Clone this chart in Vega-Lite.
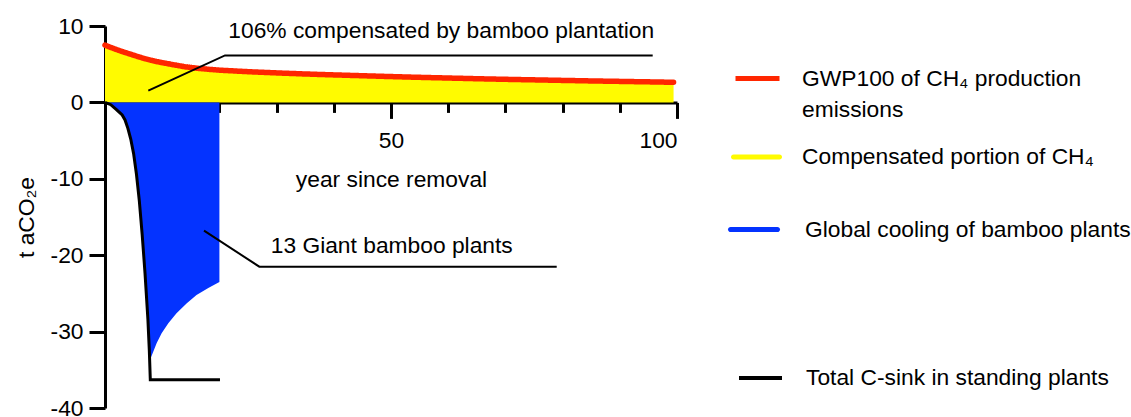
{
  "$schema": "https://vega.github.io/schema/vega-lite/v6.json",
  "width": 572,
  "height": 382,
  "autosize": {"type": "none"},
  "padding": {"left": 105, "top": 26, "right": 454, "bottom": 9},
  "background": "white",
  "config": {
    "view": {"stroke": null},
    "font": "Liberation Sans",
    "axis": {
      "labelFont": "Liberation Sans",
      "titleFont": "Liberation Sans",
      "labelFontSize": 22.8,
      "titleFontSize": 22.8,
      "labelColor": "black",
      "titleColor": "black",
      "titleFontWeight": "normal",
      "domainColor": "black",
      "tickColor": "black",
      "domainWidth": 3,
      "tickWidth": 3,
      "grid": false,
      "zindex": 1
    },
    "legend": {
      "labelFont": "Liberation Sans",
      "labelFontSize": 22.8,
      "labelColor": "black",
      "labelLimit": 500,
      "padding": 0
    }
  },
  "datasets": {
    "gwp": [
      {"year": 0, "value": 7.5},
      {"year": 1, "value": 7.2},
      {"year": 2, "value": 6.92},
      {"year": 3, "value": 6.66},
      {"year": 4, "value": 6.42},
      {"year": 5, "value": 6.18},
      {"year": 6, "value": 5.94},
      {"year": 7, "value": 5.72},
      {"year": 8, "value": 5.52},
      {"year": 9, "value": 5.35},
      {"year": 10, "value": 5.2},
      {"year": 12, "value": 4.92},
      {"year": 14, "value": 4.66},
      {"year": 16, "value": 4.48},
      {"year": 18, "value": 4.34},
      {"year": 20, "value": 4.22},
      {"year": 25, "value": 4.02},
      {"year": 30, "value": 3.86},
      {"year": 35, "value": 3.72},
      {"year": 40, "value": 3.6},
      {"year": 45, "value": 3.49},
      {"year": 50, "value": 3.38},
      {"year": 55, "value": 3.28},
      {"year": 60, "value": 3.19},
      {"year": 65, "value": 3.1},
      {"year": 70, "value": 3.02},
      {"year": 75, "value": 2.95},
      {"year": 80, "value": 2.88},
      {"year": 85, "value": 2.81},
      {"year": 90, "value": 2.75},
      {"year": 95, "value": 2.69},
      {"year": 99.4, "value": 2.63}
    ],
    "cool": [
      {"year": 0, "value": 0},
      {"year": 1, "value": -0.3},
      {"year": 2, "value": -0.95},
      {"year": 3, "value": -1.65},
      {"year": 3.5, "value": -2.3},
      {"year": 4, "value": -3.4},
      {"year": 4.5, "value": -4.8},
      {"year": 5, "value": -6.7},
      {"year": 5.5, "value": -9.4},
      {"year": 6, "value": -12.9},
      {"year": 6.5, "value": -17.3},
      {"year": 7, "value": -22.4},
      {"year": 7.5, "value": -28.4},
      {"year": 7.75, "value": -32.5},
      {"year": 7.98, "value": -33.5},
      {"year": 8.45, "value": -32.6},
      {"year": 9.04, "value": -31.5},
      {"year": 9.9, "value": -30.2},
      {"year": 11.07, "value": -28.9},
      {"year": 12.5, "value": -27.6},
      {"year": 14.3, "value": -26.3},
      {"year": 16.0, "value": -25.2},
      {"year": 18.06, "value": -24.3},
      {"year": 20.0, "value": -23.5}
    ],
    "sink": [
      {"year": 0, "value": 0},
      {"year": 1, "value": -0.3},
      {"year": 2, "value": -0.95},
      {"year": 3, "value": -1.65},
      {"year": 3.5, "value": -2.3},
      {"year": 4, "value": -3.4},
      {"year": 4.5, "value": -4.8},
      {"year": 5, "value": -6.7},
      {"year": 5.5, "value": -9.4},
      {"year": 6, "value": -12.9},
      {"year": 6.5, "value": -17.3},
      {"year": 7, "value": -22.4},
      {"year": 7.5, "value": -28.4},
      {"year": 7.75, "value": -32.5},
      {"year": 7.92, "value": -36.3},
      {"year": 20.1, "value": -36.3}
    ],
    "leaders": [
      {"id": "a", "year": 7.57, "value": 1.53},
      {"id": "a", "year": 20.98, "value": 6.15},
      {"id": "a", "year": 95.75, "value": 6.15},
      {"id": "b", "year": 17.31, "value": -16.79},
      {"id": "b", "year": 26.98, "value": -21.5},
      {"id": "b", "year": 78.97, "value": -21.5}
    ],
    "notes": [
      {"year": 21.56, "value": 8.39, "text": "106% compensated by bamboo plantation"},
      {"year": 28.97, "value": -19.75, "text": "13 Giant bamboo plants"}
    ]
  },
  "layer": [
    {
      "data": {"name": "gwp"},
      "mark": {"type": "area", "interpolate": "linear"},
      "encoding": {
        "x": {
          "field": "year", "type": "quantitative",
          "scale": {"domain": [0, 100], "nice": false, "zero": false},
          "axis": {
            "orient": "bottom",
            "offset": -305.6,
            "values": [0, 50, 100],
            "tickSize": 16,
            "labelPadding": 11,
            "labelExpr": "datum.value == 0 ? '' : datum.label",
            "title": "year since removal",
            "titlePadding": 16
          }
        },
        "y": {
          "field": "value", "type": "quantitative",
          "scale": {"domain": [-40, 10], "nice": false},
          "axis": {
            "values": [-40, -30, -20, -10, 0, 10],
            "tickSize": 16,
            "labelPadding": 6,
            "labelExpr": "datum.value < 0 ? '-' + abs(datum.value) : '' + datum.value",
            "title": "t aCO₂e",
            "titlePadding": 12
          }
        },
        "y2": {"datum": 0},
        "color": {
          "datum": "Compensated portion of CH₄",
          "scale": {"range": ["#FFFB00"]},
          "legend": {
            "title": null,
            "orient": "none",
            "legendX": 626,
            "legendY": 105.5,
            "symbolType": "M-0.9,-0.1H0.9A0.1,0.1,0,0,1,0.9,0.1H-0.9A0.1,0.1,0,0,1,-0.9,-0.1Z",
            "symbolSize": 2601,
            "symbolStrokeWidth": 0,
            "labelOffset": 20
          }
        }
      }
    },
    {
      "data": {"name": "cool"},
      "mark": {"type": "area", "interpolate": "linear"},
      "encoding": {
        "x": {
          "field": "year", "type": "quantitative",
          "axis": {
            "orient": "bottom",
            "offset": -305.6,
            "values": [10, 20, 30, 40, 60, 70, 80, 90],
            "tickSize": 10,
            "labels": false,
            "domain": false,
            "title": null
          }
        },
        "y": {"field": "value", "type": "quantitative"},
        "y2": {"datum": 0},
        "color": {
          "datum": "Global cooling of bamboo plants",
          "scale": {"range": ["#0433FF"]},
          "legend": {
            "title": null,
            "orient": "none",
            "legendX": 623,
            "legendY": 177.5,
            "symbolType": "M-0.9,-0.1H0.9A0.1,0.1,0,0,1,0.9,0.1H-0.9A0.1,0.1,0,0,1,-0.9,-0.1Z",
            "symbolSize": 2704,
            "symbolStrokeWidth": 0,
            "labelOffset": 25
          }
        }
      }
    },
    {
      "data": {"name": "gwp"},
      "mark": {"type": "line", "strokeWidth": 5.5, "strokeCap": "round", "interpolate": "linear"},
      "encoding": {
        "x": {"field": "year", "type": "quantitative", "axis": null},
        "y": {"field": "value", "type": "quantitative"},
        "color": {
          "datum": "GWP100 of CH₄ production",
          "scale": {"range": ["#FF2600"]},
          "legend": {
            "title": null,
            "orient": "none",
            "legendX": 628,
            "legendY": 28,
            "symbolType": "stroke",
            "symbolSize": 1936,
            "symbolStrokeWidth": 5,
            "labelOffset": 20
          }
        },
        "strokeDash": {
          "datum": "emissions",
          "scale": {"range": [[1, 0]]},
          "legend": {
            "title": null,
            "orient": "none",
            "legendX": 628,
            "legendY": 59.5,
            "symbolType": "stroke",
            "symbolSize": 1936,
            "symbolStrokeWidth": 5,
            "symbolOpacity": 0,
            "labelOffset": 20
          }
        }
      }
    },
    {
      "data": {"name": "sink"},
      "mark": {"type": "line", "strokeWidth": 3, "interpolate": "linear"},
      "encoding": {
        "x": {"field": "year", "type": "quantitative", "axis": null},
        "y": {"field": "value", "type": "quantitative"},
        "color": {
          "datum": "Total C-sink in standing plants",
          "scale": {"range": ["#000000"]},
          "legend": {
            "title": null,
            "orient": "none",
            "legendX": 632,
            "legendY": 328.5,
            "symbolType": "stroke",
            "symbolSize": 1849,
            "symbolStrokeWidth": 4,
            "labelOffset": 22
          }
        }
      }
    },
    {
      "data": {"name": "leaders"},
      "mark": {"type": "line", "strokeWidth": 2, "color": "black"},
      "encoding": {
        "x": {"field": "year", "type": "quantitative", "axis": null},
        "y": {"field": "value", "type": "quantitative"},
        "detail": {"field": "id", "type": "nominal"}
      }
    },
    {
      "data": {"name": "notes"},
      "mark": {"type": "text", "align": "left", "baseline": "alphabetic", "fontSize": 22.8, "font": "Liberation Sans", "color": "black"},
      "encoding": {
        "x": {"field": "year", "type": "quantitative", "axis": null},
        "y": {"field": "value", "type": "quantitative"},
        "text": {"field": "text", "type": "nominal"}
      }
    }
  ],
  "resolve": {
    "scale": {"color": "independent", "strokeDash": "independent"},
    "axis": {"x": "independent"}
  }
}
